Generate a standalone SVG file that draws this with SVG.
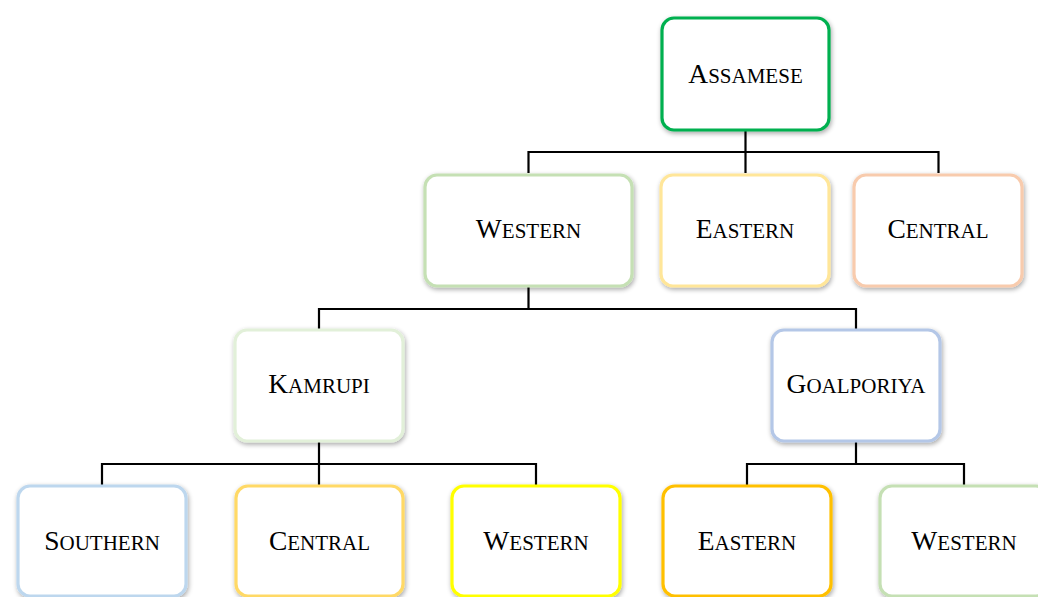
<svg xmlns="http://www.w3.org/2000/svg" width="1038" height="597" viewBox="0 0 1038 597">
<defs>
<filter id="sh" x="-10%" y="-10%" width="125%" height="130%">
<feGaussianBlur in="SourceAlpha" stdDeviation="2.5"/>
<feOffset dx="1" dy="2" result="b"/>
<feComponentTransfer><feFuncA type="linear" slope="0.35"/></feComponentTransfer>
<feMerge><feMergeNode/><feMergeNode in="SourceGraphic"/></feMerge>
</filter>
</defs>
<style>
.box{fill:#fff;stroke-width:3.2;filter:url(#sh)}
.t{font-family:"Liberation Serif","Times New Roman",serif;font-size:27.5px;fill:#000;text-anchor:middle}
.s{font-size:21px}
.c{fill:none;stroke:#000;stroke-width:2.2}
</style>
<rect width="1038" height="597" fill="#fff"/>
<g id="connectors">
<path class="c" d="M745.5 130V152M528.5 173V152H938.5V173M745.5 152V173"/>
<path class="c" d="M528.5 286V309M319 330V309H856V330"/>
<path class="c" d="M319 441V464M102 486V464H536V486M319 464V486"/>
<path class="c" d="M856 441V464M747 486V464H964V486"/>
</g>
<g id="assamese"><rect class="box" x="662" y="18" width="167" height="112" rx="12" stroke="#00b050"/><text class="t" x="745.5" y="83">A<tspan class="s">SSAMESE</tspan></text></g>
<g id="western-l2"><rect class="box" x="425" y="175" width="207" height="111" rx="12" stroke="#c5e0b4"/><text class="t" x="528.5" y="238">W<tspan class="s">ESTERN</tspan></text></g>
<g id="eastern-l2"><rect class="box" x="661" y="175" width="168" height="111" rx="12" stroke="#ffe699"/><text class="t" x="745" y="238">E<tspan class="s">ASTERN</tspan></text></g>
<g id="central-l2"><rect class="box" x="854" y="175" width="168" height="111" rx="12" stroke="#f8cbad"/><text class="t" x="938" y="238">C<tspan class="s">ENTRAL</tspan></text></g>
<g id="kamrupi"><rect class="box" x="235" y="330" width="168" height="111" rx="12" stroke="#e2f0d9"/><text class="t" x="319" y="393">K<tspan class="s">AMRUPI</tspan></text></g>
<g id="goalporiya"><rect class="box" x="772" y="330" width="168" height="111" rx="12" stroke="#b4c7e7"/><text class="t" x="856" y="393">G<tspan class="s">OALPORIYA</tspan></text></g>
<g id="southern"><rect class="box" x="18" y="486" width="168" height="110" rx="12" stroke="#bdd7ee"/><text class="t" x="102" y="550">S<tspan class="s">OUTHERN</tspan></text></g>
<g id="central-l4"><rect class="box" x="236" y="486" width="167" height="110" rx="12" stroke="#ffd966"/><text class="t" x="319.5" y="550">C<tspan class="s">ENTRAL</tspan></text></g>
<g id="western-kamrupi"><rect class="box" x="452" y="486" width="168" height="110" rx="12" stroke="#ffff00"/><text class="t" x="536" y="550">W<tspan class="s">ESTERN</tspan></text></g>
<g id="eastern-goalporiya"><rect class="box" x="663" y="486" width="168" height="110" rx="12" stroke="#ffc000"/><text class="t" x="747" y="550">E<tspan class="s">ASTERN</tspan></text></g>
<g id="western-goalporiya"><rect class="box" x="880" y="486" width="168" height="110" rx="12" stroke="#c5e0b4"/><text class="t" x="964" y="550">W<tspan class="s">ESTERN</tspan></text></g>
</svg>
